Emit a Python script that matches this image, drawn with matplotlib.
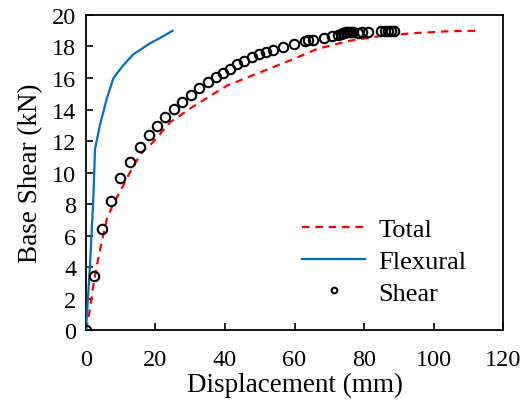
import matplotlib
matplotlib.use("Agg")
import matplotlib.pyplot as plt

plt.rcParams['font.family'] = ['Liberation Serif', 'DejaVu Serif']
plt.rcParams['mathtext.fontset'] = 'stix'

# Total response curve
total_disp = [0, 1.15, 2.1, 3.1, 4.5, 6.0, 7.95, 10.7, 13.6, 16.5, 19.2, 24.2,
              30.9, 40.5, 50.1, 59.7, 66.4, 76.0, 85.6, 95.2, 104.7, 112.4]
total_shear = [0, 1.33, 2.81, 4.08, 5.57, 7.05, 8.05, 9.16, 10.43, 11.38, 11.9, 13.19,
               14.2, 15.51, 16.36, 17.2, 17.84, 18.37, 18.69, 18.86, 18.97, 19.0]

# Flexural component
flex_disp = [0, 1.15, 2.1, 2.6, 4.0, 6.0, 7.9, 10.7, 13.6, 18.4, 21.8, 24.9]
flex_shear = [0, 4.1, 8.3, 11.5, 13.0, 14.7, 16.0, 16.8, 17.5, 18.2, 18.6, 19.0]

# Shear component (test points)
shear_disp = [0, 2.3, 4.6, 7.3, 9.9, 12.7, 15.4, 18.0, 20.3, 22.8, 25.2, 27.6,
              30.1, 32.5, 35.0, 37.3, 39.5, 41.4, 43.4, 45.6, 47.7, 49.7, 51.7,
              53.8, 56.8, 59.9, 62.9, 64.0, 65.2, 68.5, 70.9, 72.5, 73.4, 73.9,
              74.3, 74.8, 75.2, 75.7, 76.2, 76.7, 78.4, 79.4, 81.2, 84.9, 85.9,
              86.9, 87.9, 88.6]
shear_force = [0, 3.43, 6.41, 8.22, 9.62, 10.65, 11.6, 12.35, 12.97, 13.52, 14.03, 14.5,
               14.95, 15.35, 15.73, 16.04, 16.32, 16.59, 16.86, 17.08, 17.31, 17.52, 17.63,
               17.78, 17.97, 18.18, 18.33, 18.39, 18.41, 18.56, 18.65, 18.76, 18.81, 18.84,
               18.86, 18.89, 18.9, 18.9, 18.9, 18.9, 18.84, 18.93, 18.9, 18.98, 18.98,
               18.98, 18.98, 18.98]

x_ticks = [0, 20, 40, 60, 80, 100, 120]
y_ticks = [0, 2, 4, 6, 8, 10, 12, 14, 16, 18, 20]

fig = plt.figure(figsize=(5.24, 4.06), dpi=100)
ax = fig.add_axes([0.1641, 0.1847, 0.7959, 0.7759])

ax.plot(total_disp, total_shear, color='#FF0000', linestyle=(0, (3.4, 2.6)),
        linewidth=1.6, label='Total', zorder=2)
ax.plot(flex_disp, flex_shear, color='#0070C0', linewidth=1.6,
        label='Flexural', zorder=3)
ax.plot(shear_disp, shear_force, linestyle='none', marker='o', markersize=6.8,
        markerfacecolor='none', markeredgecolor='black', markeredgewidth=1.5,
        label='Shear', zorder=4)

ax.set_xlim(0, 120)
ax.set_ylim(0, 20)
ax.set_xticks(x_ticks)
ax.set_yticks(y_ticks)
ax.tick_params(direction='in', length=5, width=1.2, labelsize=17.5,
               top=False, right=False)
ax.tick_params(axis='x', pad=14)
ax.tick_params(axis='y', pad=7)
for s in ax.spines.values():
    s.set_linewidth(1.3)

ax.set_xlabel('Displacement (mm)', fontsize=19.5, labelpad=1)
ax.set_ylabel('Base Shear (kN)', fontsize=19.5, labelpad=6)

leg = ax.legend(loc='lower right', bbox_to_anchor=(0.97, 0.005), frameon=False,
                fontsize=19, handlelength=2.4, handletextpad=0.5,
                labelspacing=0.32, markerscale=0.6)

fig.savefig('out.png', dpi=100)
